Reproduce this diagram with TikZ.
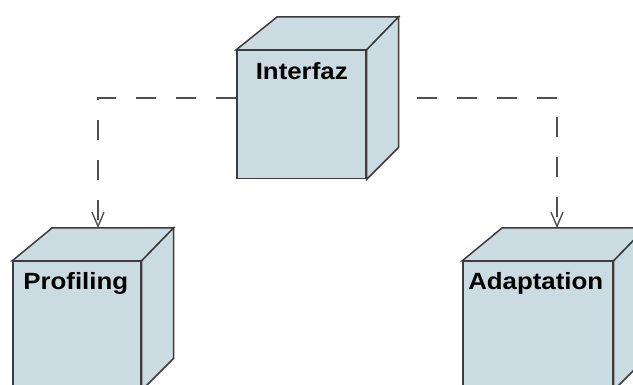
\documentclass[tikz,border=0pt]{standalone}
\usepackage{fontspec}
\setmainfont{Liberation Sans}
\newfontfamily\boxfont[FakeStretch=1.1]{Liberation Sans}
\usetikzlibrary{arrows.meta,backgrounds}

\definecolor{nodefill}{RGB}{202,219,226}
\definecolor{nodeline}{RGB}{60,60,60}
\definecolor{depline}{RGB}{80,80,80}

\tikzset{
  face/.style={draw=nodeline, fill=nodefill, line width=1.5pt, line join=miter,
               inner sep=0pt, anchor=north west},
  shade3d/.style={draw=nodeline, fill=nodefill, line width=1.5pt, line join=miter},
  lbl/.style={font=\boxfont\bfseries\fontsize{23.5}{26}\selectfont, anchor=base, inner sep=0pt},
  dep/.style={draw=depline, line width=1.4pt, dash pattern=on 20pt off 20pt,
              -{Straight Barb[length=14pt,width=12pt,line width=1.4pt]}}
}

\begin{document}
\begin{tikzpicture}[x=1pt, y=-1pt]
  \useasboundingbox (0,0) rectangle (633,385);
  \clip (0,0) rectangle (633,385);

  % front faces of the three deployment nodes
  \node[face, minimum width=129pt, minimum height=128pt] (inter) at (236,50) {};
  \node[face, minimum width=128pt, minimum height=128pt] (prof) at (12,261) {};
  \node[face, minimum width=150pt, minimum height=128pt] (adapt) at (462,261) {};

  % top and side faces of Interfaz
  \draw[shade3d] (inter.north west) -- ++(41,-33) -- ([shift={(32,-33)}]inter.north east)
    -- (inter.north east) -- cycle;
  \draw[shade3d] (inter.north east) -- ++(32,-33) -- ([shift={(32,-32)}]inter.south east)
    -- (inter.south east) -- cycle;

  % top and side faces of Profiling
  \draw[shade3d] (prof.north west) -- ++(40,-33) -- ([shift={(32,-33)}]prof.north east)
    -- (prof.north east) -- cycle;
  \draw[shade3d] (prof.north east) -- ++(32,-33) -- ([shift={(32,-32)}]prof.south east)
    -- (prof.south east) -- cycle;

  % top and side faces of Adaptation
  \draw[shade3d] (adapt.north west) -- ++(40,-33) -- ([shift={(32,-33)}]adapt.north east)
    -- (adapt.north east) -- cycle;
  \draw[shade3d] (adapt.north east) -- ++(32,-33) -- ([shift={(32,-32)}]adapt.south east)
    -- (adapt.south east) -- cycle;

  % labels
  \node[lbl] (interlbl) at ([shift={(0.5,30)}]inter.north) {Interfaz};
  \node[lbl] (proflbl) at ([shift={(-1,29)}]prof.north) {Profiling};
  \node[lbl] (adaptlbl) at ([shift={(-2,29)}]adapt.north) {Adaptation};

  % dependencies, drawn behind the boxes
  \coordinate (profTop) at ([shift={(86,-33)}]prof.north west);
  \coordinate (adaptTop) at ([shift={(95,-33)}]adapt.north west);
  \begin{scope}[on background layer]
    \draw[dep] ([shift={(0,48)}]inter.north west) -| (profTop);
    \draw[dep] ([shift={(10,48)}]inter.north east) -| (adaptTop);
  \end{scope}
\end{tikzpicture}
\end{document}
